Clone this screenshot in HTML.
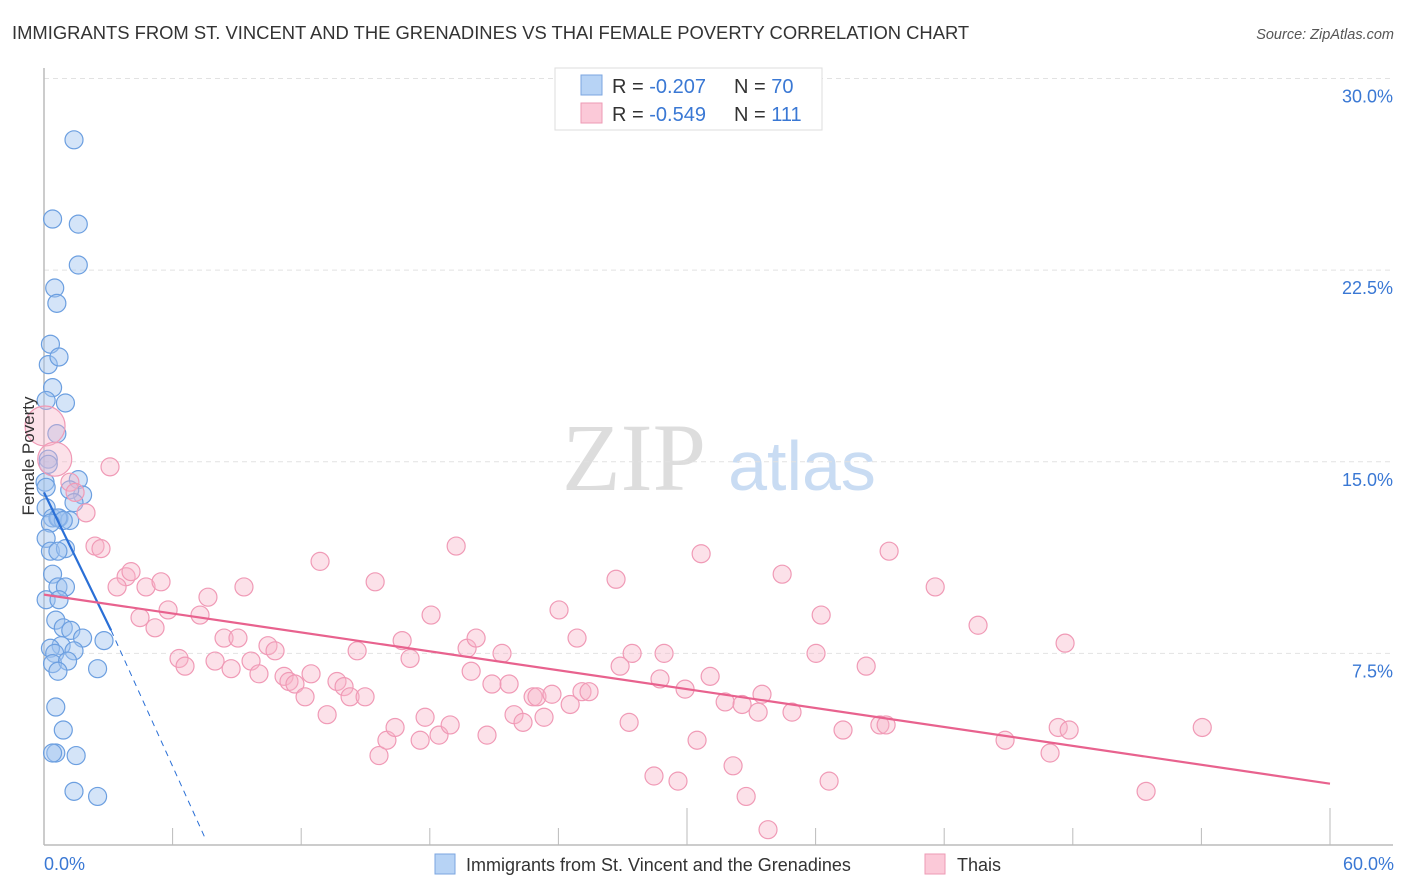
<!DOCTYPE html>
<html><head><meta charset="utf-8"><style>
body{margin:0;background:#fff;font-family:"Liberation Sans",sans-serif;}
svg{display:block}
</style></head><body>
<svg width="1406" height="892" font-family="Liberation Sans, sans-serif">
<text x="12" y="39" font-size="18.4" fill="#333">IMMIGRANTS FROM ST. VINCENT AND THE GRENADINES VS THAI FEMALE POVERTY CORRELATION CHART</text>
<text x="1394" y="39" font-size="14.5" fill="#555" font-style="italic" text-anchor="end">Source: ZipAtlas.com</text>
<text x="634" y="490" font-size="96" fill="#ddd" font-family="Liberation Serif, serif" text-anchor="middle">ZIP</text>
<text x="802" y="490" font-size="70" fill="#c9dcf3" text-anchor="middle">atlas</text>
<g id="grid"></g>
<g id="axes"></g>
<g id="pts"></g>
<g id="lines"></g>
<text transform="translate(34,456) rotate(-90)" font-size="17" fill="#333" text-anchor="middle">Female Poverty</text>
<g>
<rect x="555" y="68" width="267" height="62" fill="#fff" stroke="#ddd"/>
<rect x="581" y="75" width="21" height="20" fill="#b7d3f5" stroke="#7ba6e0"/>
<text x="612" y="93" font-size="20" fill="#333">R = <tspan fill="#3a78d4">-0.207</tspan></text>
<text x="734" y="93" font-size="20" fill="#333">N = <tspan fill="#3a78d4">70</tspan></text>
<rect x="581" y="103" width="21" height="20" fill="#fbc9d8" stroke="#ee9ab4"/>
<text x="612" y="121" font-size="20" fill="#333">R = <tspan fill="#3a78d4">-0.549</tspan></text>
<text x="734" y="121" font-size="20" fill="#333">N = <tspan fill="#3a78d4">111</tspan></text>
</g>
<g>
<rect x="435" y="854" width="20" height="20" fill="#b7d3f5" stroke="#7ba6e0"/>
<text x="466" y="871" font-size="18" fill="#333">Immigrants from St. Vincent and the Grenadines</text>
<rect x="925" y="854" width="20" height="20" fill="#fbc9d8" stroke="#ee9ab4"/>
<text x="957" y="871" font-size="18" fill="#333">Thais</text>
</g>
</svg>
<script>
const yTicks=[7.5,15.0,22.5,30.0];
const xTickLabels=["0.0%","60.0%"];
const blueX=[1.4,0.4,1.6,1.6,0.5,0.6,0.3,0.2,0.7,0.4,1.0,0.1,0.6,0.2,0.2,1.6,0.05,0.1,1.8,1.2,1.4,0.1,0.4,0.7,1.2,0.65,0.9,0.3,0.1,0.3,1.0,0.65,0.4,0.65,1.0,0.1,0.7,0.55,0.9,1.25,1.8,2.8,0.8,0.3,0.5,1.4,0.4,1.1,0.65,2.5,0.55,0.9,0.55,0.4,1.5,1.4,2.5];
const blueY=[27.6,24.5,24.3,22.7,21.8,21.2,19.6,18.8,19.1,17.9,17.3,17.4,16.1,15.1,14.9,14.3,14.2,14.0,13.7,13.9,13.4,13.2,12.8,12.8,12.7,12.8,12.7,12.6,12.0,11.5,11.6,11.5,10.6,10.1,10.1,9.6,9.6,8.8,8.5,8.4,8.1,8.0,7.8,7.7,7.5,7.6,7.1,7.2,6.8,6.9,5.4,4.5,3.6,3.6,3.5,2.1,1.9];
const pinkX=[0.05,0.5,3.08,1.21,1.45,1.96,2.38,2.66,3.83,4.06,
3.41,4.76,5.46,4.48,5.18,5.79,6.30,6.58,7.28,7.65,
7.98,8.40,8.73,9.05,9.33,9.66,10.03,10.45,10.78,11.20,
11.43,11.71,12.18,12.46,12.88,13.21,13.67,14.0,14.28,14.61,
14.98,15.45,15.63,16.0,16.38,16.71,17.08,17.55,17.78,18.06,
18.43,18.95,19.23,19.74,19.93,20.16,20.67,20.9,21.37,21.7,
21.93,22.35,22.82,23.0,23.33,23.7,24.03,24.55,24.87,25.1,
25.43,26.69,26.88,27.3,27.44,28.46,28.74,28.93,29.58,29.91,
30.47,30.66,31.08,31.78,32.15,32.57,32.76,33.32,33.5,33.78,
34.44,34.9,36.02,36.26,36.63,37.28,38.36,39.0,39.29,39.43,
41.58,43.58,44.84,46.94,47.32,47.64,47.83,51.42,54.04];
const pinkY=[16.4,15.1,14.8,14.2,13.8,13.0,11.7,11.6,10.5,10.7,
10.1,10.1,10.3,8.9,8.5,9.2,7.3,7.0,9.0,9.7,
7.2,8.1,6.9,8.1,10.1,7.2,6.7,7.8,7.6,6.6,
6.4,6.3,5.8,6.7,11.1,5.1,6.4,6.2,5.8,7.6,
5.8,10.3,3.5,4.1,4.6,8.0,7.3,4.1,5.0,9.0,
4.3,4.7,11.7,7.7,6.8,8.1,4.3,6.3,7.5,6.3,
5.1,4.8,5.8,5.8,5.0,5.9,9.2,5.5,8.1,6.0,
6.0,10.4,7.0,4.8,7.5,2.7,6.5,7.5,2.5,6.1,
4.1,11.4,6.6,5.6,3.1,5.5,1.9,5.2,5.9,0.6,
10.6,5.2,7.5,9.0,2.5,4.5,7.0,4.7,4.7,11.5,
10.1,8.6,4.1,3.6,4.6,7.9,4.5,2.1,4.6];
const pinkR=[20,17];
const blueLine=[[0,13.8],[3.13,8.4]];
const blueDash=[[3.13,8.4],[7.5,0.3]];
const pinkLine=[[0,9.8],[60,2.4]];

const NS="http://www.w3.org/2000/svg";
const X0=44,X1=1330,Y0=845,YPX=25.55;
const sx=v=>X0+v*(X1-X0)/60;
const sy=v=>Y0-v*YPX;
function mk(t,a,p){const e=document.createElementNS(NS,t);for(const k in a)e.setAttribute(k,a[k]);p.appendChild(e);return e;}
const grid=document.getElementById('grid'),axes=document.getElementById('axes'),pts=document.getElementById('pts'),lines=document.getElementById('lines');
yTicks.forEach(t=>{
 const l=mk('line',{x1:44,x2:1393,y1:sy(t),y2:sy(t),stroke:'#e2e2e2','stroke-dasharray':'5,4'},grid);
 
 
 const tx=mk('text',{x:1393,y:sy(t)+24,'font-size':18,fill:'#3a78d4','text-anchor':'end'},axes);
 tx.textContent=t.toFixed(1)+'%';
 
 
});
const ax=mk('line',{x1:44,x2:1393,y1:845,y2:845,stroke:'#bbb','stroke-width':1.5},axes);


const ay=mk('line',{x1:44,x2:44,y1:68,y2:845,stroke:'#bbb','stroke-width':1.5},axes);


for(let i=1;i<=10;i++){
 const x=sx(i*6);const top=(i==5||i==10)?808:828;
 const t=mk('line',{x1:x,x2:x,y1:top,y2:845,stroke:'#bbb'},axes);
 
 
}
[[0,'start',44],[60,'end',1394]].forEach((d,i)=>{
 const tx=mk('text',{x:d[2],y:870,'font-size':18,fill:'#3a78d4','text-anchor':d[1]},axes);
 tx.textContent=xTickLabels[i];
 
 
});
blueX.forEach((v,i)=>{
 const c=mk('circle',{cx:sx(v),cy:sy(blueY[i]),r:9,fill:'rgba(160,196,240,0.45)',stroke:'#6c9fe0','stroke-width':1.2},pts);
 
 
});
pinkX.forEach((v,i)=>{
 const c=mk('circle',{cx:sx(v),cy:sy(pinkY[i]),r:pinkR[i]||9,fill:'rgba(248,180,200,0.4)',stroke:'#f09ab6','stroke-width':1.2},pts);
 
 
});
const bl=mk('line',{x1:sx(blueLine[0][0]),y1:sy(blueLine[0][1]),x2:sx(blueLine[1][0]),y2:sy(blueLine[1][1]),stroke:'#2a6fd6','stroke-width':2.2},lines);


const bd=mk('line',{x1:sx(blueDash[0][0]),y1:sy(blueDash[0][1]),x2:sx(blueDash[1][0]),y2:sy(blueDash[1][1]),stroke:'#2a6fd6','stroke-width':1,'stroke-dasharray':'6,5'},lines);


const pl=mk('line',{x1:sx(pinkLine[0][0]),y1:sy(pinkLine[0][1]),x2:sx(pinkLine[1][0]),y2:sy(pinkLine[1][1]),stroke:'#e8628e','stroke-width':2.2},lines);


</script>
</body></html>
